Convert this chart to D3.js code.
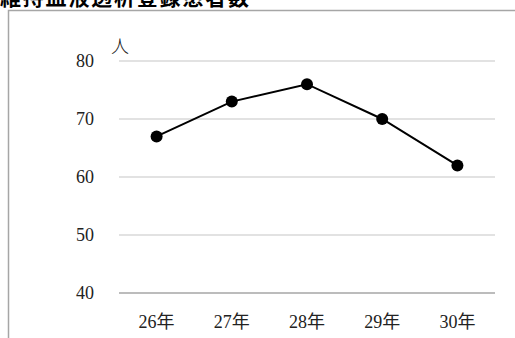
<!DOCTYPE html>
<html><head><meta charset="utf-8">
<script src="https://cdn.jsdelivr.net/npm/d3@7"></script>
<style>body{margin:0;background:#fff}svg{display:block}</style>
</head><body>
<script>
const title = "維持血液透析登録患者数";
const categories = ["26年","27年","28年","29年","30年"];
const values = [67, 73, 76, 70, 62];
const yTicks = [40, 50, 60, 70, 80];
const unitLabel = "人";

const W = 515, H = 338;
const svg = d3.select("body").append("svg").attr("width", W).attr("height", H);
const serif = "Liberation Serif, Times New Roman, DejaVu Serif, Noto Sans CJK JP, serif";

// frame
svg.append("path").attr("d", `M8.5,${H} V10.5 H${W}`).attr("fill","none").attr("stroke","#a6a6a6").attr("stroke-width",1.5);

// title (clipped at top, as in the reference)
svg.append("text").attr("x", 0).attr("y", 5).attr("font-family","Noto Sans CJK JP, sans-serif")
  .attr("font-weight","bold").attr("font-size",21).attr("letter-spacing",1.8).attr("fill","#000").text(title);

const x = d3.scalePoint().domain(categories).range([156.6, 457.4]);
const y = d3.scaleLinear().domain([40, 80]).range([293, 61]);

// gridlines
svg.append("g").selectAll("line").data(yTicks.filter(d => d !== 40)).join("line")
  .attr("x1",119).attr("x2",495).attr("y1",d=>y(d)).attr("y2",d=>y(d))
  .attr("stroke","#d9d9d9").attr("stroke-width",1.5);
// baseline
svg.append("line").attr("x1",119).attr("x2",495).attr("y1",y(40)).attr("y2",y(40))
  .attr("stroke","#a6a6a6").attr("stroke-width",1.5);

// y labels
svg.append("g").selectAll("text").data(yTicks).join("text")
  .attr("x",94).attr("y",d=>y(d)).attr("dy","0.35em").attr("text-anchor","end")
  .attr("font-family",serif).attr("font-size",18).attr("fill","#222").text(d=>d);

// unit label
svg.append("text").attr("x",111).attr("y",53).attr("font-family","Noto Sans CJK JP, serif")
  .attr("font-size",18).attr("font-weight",300).attr("fill","#222").text(unitLabel);

// x labels
svg.append("g").selectAll("text").data(categories).join("text")
  .attr("x",d=>x(d)).attr("y",328).attr("text-anchor","middle")
  .attr("font-family",serif).attr("font-size",18).attr("fill","#222").text(d=>d);

// line
const line = d3.line().x((d,i)=>x(categories[i])).y(d=>y(d));
svg.append("path").datum(values).attr("d",line).attr("fill","none").attr("stroke","#000").attr("stroke-width",2);
svg.append("g").selectAll("circle").data(values).join("circle")
  .attr("cx",(d,i)=>x(categories[i])).attr("cy",d=>y(d)).attr("r",6).attr("fill","#000");
</script>
</body></html>
